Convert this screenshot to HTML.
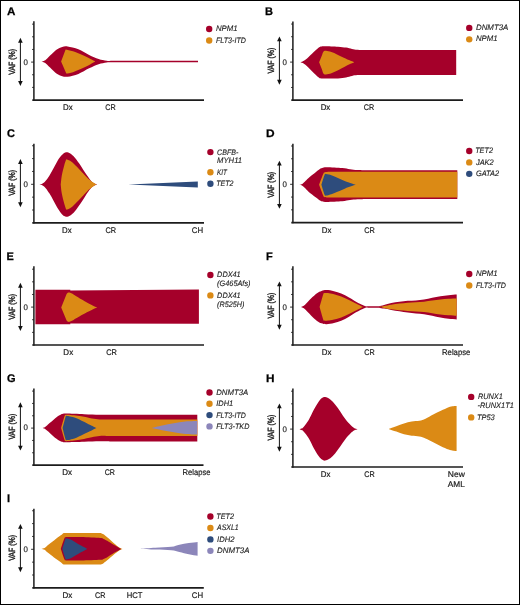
<!DOCTYPE html>
<html><head><meta charset="utf-8"><title>Fish plots</title>
<style>html,body{margin:0;padding:0;background:#fff;}svg{display:block;will-change:transform;}</style>
</head><body>
<svg width="520" height="605" viewBox="0 0 520 605" style="font-family:&quot;Liberation Sans&quot;, sans-serif;text-rendering:geometricPrecision">
<rect x="0" y="0" width="520" height="605" fill="#fff"/>
<text x="6.90" y="14.80" font-size="11" font-weight="bold" fill="#000" stroke="#000" stroke-width="0.25" textLength="8.4" lengthAdjust="spacingAndGlyphs">A</text>
<line x1="33.9" y1="21.2" x2="33.9" y2="100.8" stroke="#1c1c1c" stroke-width="1.5"/>
<line x1="32.3" y1="100.05" x2="204" y2="100.05" stroke="#1c1c1c" stroke-width="1.7"/>
<line x1="32.1" y1="24.15" x2="33.9" y2="24.15" stroke="#1c1c1c" stroke-width="0.9"/>
<line x1="32.1" y1="36.80" x2="33.9" y2="36.80" stroke="#1c1c1c" stroke-width="0.9"/>
<line x1="32.1" y1="49.45" x2="33.9" y2="49.45" stroke="#1c1c1c" stroke-width="0.9"/>
<line x1="31.099999999999998" y1="62.10" x2="33.9" y2="62.10" stroke="#1c1c1c" stroke-width="0.9"/>
<line x1="32.1" y1="74.75" x2="33.9" y2="74.75" stroke="#1c1c1c" stroke-width="0.9"/>
<line x1="32.1" y1="87.40" x2="33.9" y2="87.40" stroke="#1c1c1c" stroke-width="0.9"/>
<text x="27.80" y="64.52" font-size="8.0" text-anchor="end" fill="#222" textLength="4.4" lengthAdjust="spacingAndGlyphs" stroke="#222" stroke-width="0.15">0</text>
<line x1="20.4" y1="40.75" x2="20.4" y2="82.95" stroke="#111" stroke-width="1"/>
<path d="M20.4 37.75 L18.099999999999998 42.65 L22.7 42.65 Z" fill="#111"/>
<path d="M20.4 85.95 L18.099999999999998 81.05 L22.7 81.05 Z" fill="#111"/>
<text x="0" y="0" font-size="9" text-anchor="middle" fill="#222" stroke="#222" stroke-width="0.4" textLength="25.9" lengthAdjust="spacingAndGlyphs" transform="translate(15.00 61.80) rotate(-90)">VAF (%)</text>
<text x="67.90" y="110.35" font-size="8.2" text-anchor="middle" fill="#222" textLength="9.6" lengthAdjust="spacingAndGlyphs" stroke="#222" stroke-width="0.2">Dx</text>
<text x="110.40" y="110.35" font-size="8.2" text-anchor="middle" fill="#222" textLength="10.4" lengthAdjust="spacingAndGlyphs" stroke="#222" stroke-width="0.2">CR</text>
<path d="M41.00 61.60 C41.43 61.48 42.75 61.27 43.60 60.90 C44.45 60.53 44.78 60.52 46.10 59.40 C47.42 58.28 49.72 55.85 51.50 54.20 C53.28 52.55 55.02 50.70 56.80 49.50 C58.58 48.30 60.40 47.50 62.20 47.00 C64.00 46.50 64.90 46.12 67.60 46.50 C70.30 46.88 74.82 47.90 78.40 49.30 C81.98 50.70 85.73 53.28 89.10 54.90 C92.47 56.52 95.68 58.02 98.60 59.00 C101.52 59.98 104.37 60.44 106.60 60.75 C108.83 61.06 111.10 60.83 112.00 60.85 L198.00 60.85 L198.00 62.35 L112.00 62.35 C111.10 62.37 108.83 62.14 106.60 62.45 C104.37 62.76 101.52 63.23 98.60 64.20 C95.68 65.17 92.47 66.68 89.10 68.30 C85.73 69.92 81.98 72.50 78.40 73.90 C74.82 75.30 70.30 76.32 67.60 76.70 C64.90 77.08 64.00 76.70 62.20 76.20 C60.40 75.70 58.58 74.90 56.80 73.70 C55.02 72.50 53.28 70.65 51.50 69.00 C49.72 67.35 47.42 64.92 46.10 63.80 C44.78 62.68 44.45 62.67 43.60 62.30 C42.75 61.93 41.43 61.72 41.00 61.60 Z" fill="#A5002A"/>
<path d="M61.10 61.60 L65.60 49.50 C66.83 49.80 70.20 50.37 73.00 51.30 C75.80 52.23 79.48 53.80 82.40 55.10 C85.32 56.40 88.37 58.02 90.50 59.10 C92.63 60.18 94.42 61.18 95.20 61.60 C94.42 62.03 92.63 63.08 90.50 64.20 C88.37 65.32 85.32 66.97 82.40 68.30 C79.48 69.63 75.68 71.32 73.00 72.20 C70.32 73.08 67.42 73.37 66.30 73.60 L61.10 61.60 Z" fill="#DB8A15"/>
<circle cx="209.2" cy="29.00" r="3.2" fill="#A5002A"/>
<text x="215.90" y="31.30" font-size="7.9" text-anchor="start" fill="#222" font-style="italic" textLength="21.6" lengthAdjust="spacingAndGlyphs" stroke="#222" stroke-width="0.12">NPM1</text>
<circle cx="209.2" cy="40.50" r="3.2" fill="#DB8A15"/>
<text x="215.90" y="42.80" font-size="7.9" text-anchor="start" fill="#222" font-style="italic" textLength="30.0" lengthAdjust="spacingAndGlyphs" stroke="#222" stroke-width="0.12">FLT3-ITD</text>
<text x="265.10" y="14.80" font-size="11" font-weight="bold" fill="#000" stroke="#000" stroke-width="0.25">B</text>
<line x1="292.9" y1="21.4" x2="292.9" y2="100.9" stroke="#1c1c1c" stroke-width="1.5"/>
<line x1="291.29999999999995" y1="100.15" x2="463.0" y2="100.15" stroke="#1c1c1c" stroke-width="1.7"/>
<line x1="291.09999999999997" y1="24.05" x2="292.9" y2="24.05" stroke="#1c1c1c" stroke-width="0.9"/>
<line x1="291.09999999999997" y1="36.73" x2="292.9" y2="36.73" stroke="#1c1c1c" stroke-width="0.9"/>
<line x1="291.09999999999997" y1="49.42" x2="292.9" y2="49.42" stroke="#1c1c1c" stroke-width="0.9"/>
<line x1="290.09999999999997" y1="62.10" x2="292.9" y2="62.10" stroke="#1c1c1c" stroke-width="0.9"/>
<line x1="291.09999999999997" y1="74.78" x2="292.9" y2="74.78" stroke="#1c1c1c" stroke-width="0.9"/>
<line x1="291.09999999999997" y1="87.47" x2="292.9" y2="87.47" stroke="#1c1c1c" stroke-width="0.9"/>
<text x="286.80" y="64.52" font-size="8.0" text-anchor="end" fill="#222" textLength="4.4" lengthAdjust="spacingAndGlyphs" stroke="#222" stroke-width="0.15">0</text>
<line x1="279.4" y1="39.45" x2="279.4" y2="81.65" stroke="#111" stroke-width="1"/>
<path d="M279.4 36.45 L277.09999999999997 41.35 L281.7 41.35 Z" fill="#111"/>
<path d="M279.4 84.65 L277.09999999999997 79.75 L281.7 79.75 Z" fill="#111"/>
<text x="0" y="0" font-size="9" text-anchor="middle" fill="#222" stroke="#222" stroke-width="0.4" textLength="25.9" lengthAdjust="spacingAndGlyphs" transform="translate(274.00 60.65) rotate(-90)">VAF (%)</text>
<text x="325.45" y="110.45" font-size="8.2" text-anchor="middle" fill="#222" textLength="9.6" lengthAdjust="spacingAndGlyphs" stroke="#222" stroke-width="0.2">Dx</text>
<text x="369.00" y="110.45" font-size="8.2" text-anchor="middle" fill="#222" textLength="10.4" lengthAdjust="spacingAndGlyphs" stroke="#222" stroke-width="0.2">CR</text>
<path d="M300.00 62.20 C300.43 62.07 301.65 61.85 302.60 61.40 C303.55 60.95 304.13 60.78 305.70 59.50 C307.27 58.22 309.82 55.68 312.00 53.70 C314.18 51.72 317.27 48.80 318.80 47.60 C320.33 46.40 320.18 46.73 321.20 46.50 C322.22 46.27 322.10 46.17 324.90 46.20 C327.70 46.23 334.48 46.47 338.00 46.70 C341.52 46.93 343.67 47.23 346.00 47.60 C348.33 47.97 350.08 48.53 352.00 48.90 C353.92 49.27 355.00 49.60 357.50 49.80 C360.00 50.00 363.92 50.05 367.00 50.10 C370.08 50.15 374.50 50.10 376.00 50.10 L456.20 50.10 L456.20 75.00 L376.00 75.00 C374.50 75.00 370.08 74.98 367.00 75.00 C363.92 75.02 360.00 74.93 357.50 75.10 C355.00 75.27 353.92 75.62 352.00 76.00 C350.08 76.38 348.33 77.00 346.00 77.40 C343.67 77.80 341.52 78.20 338.00 78.40 C334.48 78.60 327.70 78.60 324.90 78.60 C322.10 78.60 322.22 78.57 321.20 78.40 C320.18 78.23 320.33 78.80 318.80 77.60 C317.27 76.40 314.18 73.30 312.00 71.20 C309.82 69.10 307.27 66.37 305.70 65.00 C304.13 63.63 303.55 63.47 302.60 63.00 C301.65 62.53 300.43 62.33 300.00 62.20 Z" fill="#A5002A"/>
<path d="M319.10 62.20 C319.55 61.12 321.15 57.33 321.80 55.70 C322.45 54.07 322.60 53.18 323.00 52.40 C323.40 51.62 323.70 51.28 324.20 51.00 C324.70 50.72 324.80 50.53 326.00 50.70 C327.20 50.87 329.57 51.38 331.40 52.00 C333.23 52.62 335.20 53.57 337.00 54.40 C338.80 55.23 340.20 56.05 342.20 57.00 C344.20 57.95 347.00 59.23 349.00 60.10 C351.00 60.97 353.33 61.85 354.20 62.20 C353.33 62.58 351.00 63.53 349.00 64.50 C347.00 65.47 344.20 66.95 342.20 68.00 C340.20 69.05 338.80 69.93 337.00 70.80 C335.20 71.67 333.23 72.58 331.40 73.20 C329.57 73.82 327.20 74.33 326.00 74.50 C324.80 74.67 324.70 74.48 324.20 74.20 C323.70 73.92 323.40 73.67 323.00 72.80 C322.60 71.93 322.45 70.77 321.80 69.00 C321.15 67.23 319.55 63.33 319.10 62.20 Z" fill="#DB8A15"/>
<circle cx="469.25" cy="27.90" r="3.2" fill="#A5002A"/>
<text x="475.95" y="29.90" font-size="7.9" text-anchor="start" fill="#222" font-style="italic" textLength="32.4" lengthAdjust="spacingAndGlyphs" stroke="#222" stroke-width="0.12">DNMT3A</text>
<circle cx="469.25" cy="39.35" r="3.2" fill="#DB8A15"/>
<text x="475.95" y="41.35" font-size="7.9" text-anchor="start" fill="#222" font-style="italic" textLength="21.6" lengthAdjust="spacingAndGlyphs" stroke="#222" stroke-width="0.12">NPM1</text>
<text x="6.90" y="137.00" font-size="11" font-weight="bold" fill="#000" stroke="#000" stroke-width="0.25">C</text>
<line x1="33.9" y1="143.75" x2="33.9" y2="223.6" stroke="#1c1c1c" stroke-width="1.5"/>
<line x1="32.3" y1="222.85" x2="204" y2="222.85" stroke="#1c1c1c" stroke-width="1.7"/>
<line x1="32.1" y1="145.75" x2="33.9" y2="145.75" stroke="#1c1c1c" stroke-width="0.9"/>
<line x1="32.1" y1="158.60" x2="33.9" y2="158.60" stroke="#1c1c1c" stroke-width="0.9"/>
<line x1="32.1" y1="171.45" x2="33.9" y2="171.45" stroke="#1c1c1c" stroke-width="0.9"/>
<line x1="31.099999999999998" y1="184.30" x2="33.9" y2="184.30" stroke="#1c1c1c" stroke-width="0.9"/>
<line x1="32.1" y1="197.15" x2="33.9" y2="197.15" stroke="#1c1c1c" stroke-width="0.9"/>
<line x1="32.1" y1="210.00" x2="33.9" y2="210.00" stroke="#1c1c1c" stroke-width="0.9"/>
<text x="27.80" y="186.92" font-size="8.0" text-anchor="end" fill="#222" textLength="4.4" lengthAdjust="spacingAndGlyphs" stroke="#222" stroke-width="0.15">0</text>
<line x1="20.4" y1="162.05" x2="20.4" y2="204.25" stroke="#111" stroke-width="1"/>
<path d="M20.4 159.05 L18.099999999999998 163.95 L22.7 163.95 Z" fill="#111"/>
<path d="M20.4 207.25 L18.099999999999998 202.35 L22.7 202.35 Z" fill="#111"/>
<text x="0" y="0" font-size="9" text-anchor="middle" fill="#222" stroke="#222" stroke-width="0.4" textLength="25.9" lengthAdjust="spacingAndGlyphs" transform="translate(15.00 182.90) rotate(-90)">VAF (%)</text>
<text x="66.90" y="233.15" font-size="8.2" text-anchor="middle" fill="#222" textLength="9.6" lengthAdjust="spacingAndGlyphs" stroke="#222" stroke-width="0.2">Dx</text>
<text x="110.85" y="233.15" font-size="8.2" text-anchor="middle" fill="#222" textLength="10.6" lengthAdjust="spacingAndGlyphs" stroke="#222" stroke-width="0.2">CR</text>
<text x="197.50" y="233.15" font-size="8.2" text-anchor="middle" fill="#222" textLength="11.3" lengthAdjust="spacingAndGlyphs" stroke="#222" stroke-width="0.2">CH</text>
<path d="M39.60 184.50 C40.10 184.33 41.58 184.12 42.60 183.50 C43.62 182.88 44.55 182.15 45.70 180.80 C46.85 179.45 48.22 177.45 49.50 175.40 C50.78 173.35 52.12 170.82 53.40 168.50 C54.68 166.18 55.92 163.62 57.20 161.50 C58.48 159.38 59.93 157.23 61.10 155.80 C62.27 154.37 63.28 153.50 64.20 152.90 C65.12 152.30 65.58 152.10 66.60 152.20 C67.62 152.30 68.92 152.58 70.30 153.50 C71.68 154.42 73.13 155.63 74.90 157.70 C76.67 159.77 79.10 163.25 80.90 165.90 C82.70 168.55 84.10 171.22 85.70 173.60 C87.30 175.98 89.20 178.63 90.50 180.20 C91.80 181.77 92.38 182.28 93.50 183.00 C94.62 183.72 96.58 184.25 97.20 184.50 C96.58 184.75 94.62 185.28 93.50 186.00 C92.38 186.72 91.80 187.23 90.50 188.80 C89.20 190.37 87.30 193.02 85.70 195.40 C84.10 197.78 82.70 200.45 80.90 203.10 C79.10 205.75 76.67 209.23 74.90 211.30 C73.13 213.37 71.68 214.58 70.30 215.50 C68.92 216.42 67.62 216.70 66.60 216.80 C65.58 216.90 65.12 216.70 64.20 216.10 C63.28 215.50 62.27 214.63 61.10 213.20 C59.93 211.77 58.48 209.62 57.20 207.50 C55.92 205.38 54.68 202.82 53.40 200.50 C52.12 198.18 50.78 195.65 49.50 193.60 C48.22 191.55 46.85 189.55 45.70 188.20 C44.55 186.85 43.62 186.12 42.60 185.50 C41.58 184.88 40.10 184.67 39.60 184.50 Z" fill="#A5002A"/>
<path d="M60.70 184.50 C60.88 182.98 61.22 178.58 61.80 175.40 C62.38 172.22 63.50 168.02 64.20 165.40 C64.90 162.78 65.70 160.65 66.00 159.70 C66.17 159.65 66.42 159.25 67.00 159.40 C67.58 159.55 68.58 160.07 69.50 160.60 C70.42 161.13 70.96 161.23 72.50 162.60 C74.04 163.97 76.25 166.22 78.75 168.80 C81.25 171.38 85.29 175.93 87.50 178.10 C89.71 180.27 90.52 180.73 92.00 181.80 C93.48 182.87 95.67 184.05 96.40 184.50 C95.67 184.95 93.48 186.13 92.00 187.20 C90.52 188.27 89.71 188.73 87.50 190.90 C85.29 193.07 81.25 197.62 78.75 200.20 C76.25 202.78 74.04 205.03 72.50 206.40 C70.96 207.77 70.42 207.87 69.50 208.40 C68.58 208.93 67.58 209.45 67.00 209.60 C66.42 209.75 66.17 209.35 66.00 209.30 C65.70 208.35 64.90 206.22 64.20 203.60 C63.50 200.98 62.38 196.78 61.80 193.60 C61.22 190.42 60.88 186.02 60.70 184.50 Z" fill="#DB8A15"/>
<path d="M128.30 184.50 L197.80 181.40 L197.80 187.50 Z" fill="#2E4C7C"/>
<circle cx="210.4" cy="152.10" r="3.2" fill="#A5002A"/>
<text x="217.10" y="154.60" font-size="7.9" text-anchor="start" fill="#222" font-style="italic" textLength="21.2" lengthAdjust="spacingAndGlyphs" stroke="#222" stroke-width="0.12">CBFB-</text>
<text x="217.10" y="163.00" font-size="7.9" text-anchor="start" fill="#222" font-style="italic" textLength="25.0" lengthAdjust="spacingAndGlyphs" stroke="#222" stroke-width="0.12">MYH11</text>
<circle cx="210.4" cy="172.30" r="3.2" fill="#DB8A15"/>
<text x="217.10" y="174.80" font-size="7.9" text-anchor="start" fill="#222" font-style="italic" textLength="9.9" lengthAdjust="spacingAndGlyphs" stroke="#222" stroke-width="0.12">KIT</text>
<circle cx="210.4" cy="183.80" r="3.2" fill="#2E4C7C"/>
<text x="216.30" y="186.30" font-size="7.9" text-anchor="start" fill="#222" font-style="italic" textLength="17.2" lengthAdjust="spacingAndGlyphs" stroke="#222" stroke-width="0.12">TET2</text>
<text x="265.90" y="137.00" font-size="11" font-weight="bold" fill="#000" stroke="#000" stroke-width="0.25" textLength="8.6" lengthAdjust="spacingAndGlyphs">D</text>
<line x1="292.9" y1="143.75" x2="292.9" y2="223.35" stroke="#1c1c1c" stroke-width="1.5"/>
<line x1="291.29999999999995" y1="222.6" x2="463.0" y2="222.6" stroke="#1c1c1c" stroke-width="1.7"/>
<line x1="291.09999999999997" y1="146.00" x2="292.9" y2="146.00" stroke="#1c1c1c" stroke-width="0.9"/>
<line x1="291.09999999999997" y1="158.77" x2="292.9" y2="158.77" stroke="#1c1c1c" stroke-width="0.9"/>
<line x1="291.09999999999997" y1="171.53" x2="292.9" y2="171.53" stroke="#1c1c1c" stroke-width="0.9"/>
<line x1="290.09999999999997" y1="184.30" x2="292.9" y2="184.30" stroke="#1c1c1c" stroke-width="0.9"/>
<line x1="291.09999999999997" y1="197.07" x2="292.9" y2="197.07" stroke="#1c1c1c" stroke-width="0.9"/>
<line x1="291.09999999999997" y1="209.83" x2="292.9" y2="209.83" stroke="#1c1c1c" stroke-width="0.9"/>
<text x="286.80" y="187.02" font-size="8.0" text-anchor="end" fill="#222" textLength="4.4" lengthAdjust="spacingAndGlyphs" stroke="#222" stroke-width="0.15">0</text>
<line x1="279.4" y1="163.65" x2="279.4" y2="205.85" stroke="#111" stroke-width="1"/>
<path d="M279.4 160.65 L277.09999999999997 165.55 L281.7 165.55 Z" fill="#111"/>
<path d="M279.4 208.85 L277.09999999999997 203.95 L281.7 203.95 Z" fill="#111"/>
<text x="0" y="0" font-size="9" text-anchor="middle" fill="#222" stroke="#222" stroke-width="0.4" textLength="25.9" lengthAdjust="spacingAndGlyphs" transform="translate(274.00 184.75) rotate(-90)">VAF (%)</text>
<text x="326.60" y="232.90" font-size="8.2" text-anchor="middle" fill="#222" textLength="9.6" lengthAdjust="spacingAndGlyphs" stroke="#222" stroke-width="0.2">Dx</text>
<text x="369.60" y="232.90" font-size="8.2" text-anchor="middle" fill="#222" textLength="10.6" lengthAdjust="spacingAndGlyphs" stroke="#222" stroke-width="0.2">CR</text>
<path d="M299.50 184.80 C299.97 184.65 301.38 184.45 302.30 183.90 C303.22 183.35 304.00 182.45 305.00 181.50 C306.00 180.55 306.47 179.78 308.30 178.20 C310.13 176.62 313.97 173.60 316.00 172.00 C318.03 170.40 319.22 169.37 320.50 168.60 C321.78 167.83 322.62 167.63 323.70 167.40 C324.78 167.17 323.92 167.10 327.00 167.20 C330.08 167.30 338.37 167.67 342.20 168.00 C346.03 168.33 347.45 168.87 350.00 169.20 C352.55 169.53 354.33 169.83 357.50 170.00 C360.67 170.17 367.08 170.17 369.00 170.20 L457.30 170.20 L457.30 198.90 L369.00 198.90 C367.08 198.95 360.67 199.02 357.50 199.20 C354.33 199.38 352.55 199.67 350.00 200.00 C347.45 200.33 346.03 200.88 342.20 201.20 C338.37 201.52 330.08 201.80 327.00 201.90 C323.92 202.00 324.78 201.98 323.70 201.80 C322.62 201.62 321.78 201.50 320.50 200.80 C319.22 200.10 318.03 199.17 316.00 197.60 C313.97 196.03 310.13 192.98 308.30 191.40 C306.47 189.82 306.00 189.05 305.00 188.10 C304.00 187.15 303.22 186.25 302.30 185.70 C301.38 185.15 299.97 184.95 299.50 184.80 Z" fill="#A5002A"/>
<path d="M319.10 184.80 C319.80 182.97 322.40 175.87 323.30 173.80 C324.20 171.73 323.88 172.72 324.50 172.40 C325.12 172.08 324.58 172.00 327.00 171.90 C329.42 171.80 337.00 171.82 339.00 171.80 L457.30 171.80 L457.30 197.40 L339.00 197.40 C337.00 197.40 329.42 197.45 327.00 197.40 C324.58 197.35 325.12 197.37 324.50 197.10 C323.88 196.83 324.20 197.85 323.30 195.80 C322.40 193.75 319.80 186.63 319.10 184.80 Z" fill="#DB8A15"/>
<path d="M321.40 184.80 C321.93 183.13 323.87 176.60 324.60 174.80 C325.33 173.00 325.07 174.03 325.80 174.00 C326.53 173.97 327.55 174.18 329.00 174.60 C330.45 175.02 331.80 175.40 334.50 176.50 C337.20 177.60 341.67 179.82 345.20 181.20 C348.73 182.58 353.95 184.20 355.70 184.80 C353.95 185.40 348.73 187.03 345.20 188.40 C341.67 189.77 337.20 191.92 334.50 193.00 C331.80 194.08 330.45 194.48 329.00 194.90 C327.55 195.32 326.53 195.52 325.80 195.50 C325.07 195.48 325.33 196.58 324.60 194.80 C323.87 193.02 321.93 186.47 321.40 184.80 Z" fill="#2E4C7C"/>
<circle cx="469.25" cy="150.95" r="3.2" fill="#A5002A"/>
<text x="475.15" y="153.25" font-size="7.9" text-anchor="start" fill="#222" font-style="italic" textLength="17.8" lengthAdjust="spacingAndGlyphs" stroke="#222" stroke-width="0.12">TET2</text>
<circle cx="469.25" cy="162.40" r="3.2" fill="#DB8A15"/>
<text x="475.95" y="164.70" font-size="7.9" text-anchor="start" fill="#222" font-style="italic" textLength="17.8" lengthAdjust="spacingAndGlyphs" stroke="#222" stroke-width="0.12">JAK2</text>
<circle cx="469.25" cy="173.85" r="3.2" fill="#2E4C7C"/>
<text x="475.95" y="176.15" font-size="7.9" text-anchor="start" fill="#222" font-style="italic" textLength="23.2" lengthAdjust="spacingAndGlyphs" stroke="#222" stroke-width="0.12">GATA2</text>
<text x="6.40" y="259.80" font-size="11" font-weight="bold" fill="#000" stroke="#000" stroke-width="0.25">E</text>
<line x1="33.9" y1="266.3" x2="33.9" y2="345.75" stroke="#1c1c1c" stroke-width="1.5"/>
<line x1="32.3" y1="345.0" x2="204" y2="345.0" stroke="#1c1c1c" stroke-width="1.7"/>
<line x1="32.1" y1="269.20" x2="33.9" y2="269.20" stroke="#1c1c1c" stroke-width="0.9"/>
<line x1="32.1" y1="281.83" x2="33.9" y2="281.83" stroke="#1c1c1c" stroke-width="0.9"/>
<line x1="32.1" y1="294.47" x2="33.9" y2="294.47" stroke="#1c1c1c" stroke-width="0.9"/>
<line x1="31.099999999999998" y1="307.10" x2="33.9" y2="307.10" stroke="#1c1c1c" stroke-width="0.9"/>
<line x1="32.1" y1="319.73" x2="33.9" y2="319.73" stroke="#1c1c1c" stroke-width="0.9"/>
<line x1="32.1" y1="332.37" x2="33.9" y2="332.37" stroke="#1c1c1c" stroke-width="0.9"/>
<text x="27.80" y="309.52" font-size="8.0" text-anchor="end" fill="#222" textLength="4.4" lengthAdjust="spacingAndGlyphs" stroke="#222" stroke-width="0.15">0</text>
<line x1="20.4" y1="285.75" x2="20.4" y2="327.95000000000005" stroke="#111" stroke-width="1"/>
<path d="M20.4 282.75 L18.099999999999998 287.65 L22.7 287.65 Z" fill="#111"/>
<path d="M20.4 330.95 L18.099999999999998 326.05 L22.7 326.05 Z" fill="#111"/>
<text x="0" y="0" font-size="9" text-anchor="middle" fill="#222" stroke="#222" stroke-width="0.4" textLength="25.9" lengthAdjust="spacingAndGlyphs" transform="translate(15.00 306.80) rotate(-90)">VAF (%)</text>
<text x="68.25" y="355.30" font-size="8.2" text-anchor="middle" fill="#222" textLength="9.8" lengthAdjust="spacingAndGlyphs" stroke="#222" stroke-width="0.2">Dx</text>
<text x="111.50" y="355.30" font-size="8.2" text-anchor="middle" fill="#222" textLength="10.7" lengthAdjust="spacingAndGlyphs" stroke="#222" stroke-width="0.2">CR</text>
<path d="M35.40 289.70 L70.30 289.70 L70.30 290.50 L198.90 289.50 L198.90 323.70 L70.30 323.50 L70.30 324.30 L35.40 324.30 Z" fill="#A5002A"/>
<path d="M61.20 307.40 L66.60 294.10 C66.80 293.88 67.32 293.05 67.80 292.80 C68.28 292.55 68.72 292.43 69.50 292.60 C70.28 292.77 71.38 293.20 72.50 293.80 C73.62 294.40 73.80 294.77 76.20 296.20 C78.60 297.63 83.83 300.70 86.90 302.40 C89.97 304.10 92.80 305.57 94.60 306.40 C96.40 307.23 97.18 307.23 97.70 307.40 C97.18 307.57 96.40 307.58 94.60 308.40 C92.80 309.22 89.97 310.65 86.90 312.30 C83.83 313.95 78.60 316.92 76.20 318.30 C73.80 319.68 73.62 320.02 72.50 320.60 C71.38 321.18 70.28 321.63 69.50 321.80 C68.72 321.97 68.28 321.83 67.80 321.60 C67.32 321.37 66.80 320.60 66.60 320.40 L61.20 307.40 Z" fill="#DB8A15"/>
<circle cx="210.4" cy="275.00" r="3.2" fill="#A5002A"/>
<text x="217.10" y="277.20" font-size="7.9" text-anchor="start" fill="#222" font-style="italic" textLength="23.6" lengthAdjust="spacingAndGlyphs" stroke="#222" stroke-width="0.12">DDX41</text>
<text x="217.10" y="286.30" font-size="7.9" text-anchor="start" fill="#222" font-style="italic" textLength="33.4" lengthAdjust="spacingAndGlyphs" stroke="#222" stroke-width="0.12">(G465Afs)</text>
<circle cx="210.4" cy="295.40" r="3.2" fill="#DB8A15"/>
<text x="217.10" y="297.60" font-size="7.9" text-anchor="start" fill="#222" font-style="italic" textLength="23.6" lengthAdjust="spacingAndGlyphs" stroke="#222" stroke-width="0.12">DDX41</text>
<text x="217.10" y="306.70" font-size="7.9" text-anchor="start" fill="#222" font-style="italic" textLength="27.2" lengthAdjust="spacingAndGlyphs" stroke="#222" stroke-width="0.12">(R525H)</text>
<text x="265.90" y="259.80" font-size="11" font-weight="bold" fill="#000" stroke="#000" stroke-width="0.25">F</text>
<line x1="292.9" y1="266.3" x2="292.9" y2="345.75" stroke="#1c1c1c" stroke-width="1.5"/>
<line x1="291.29999999999995" y1="345.0" x2="463.0" y2="345.0" stroke="#1c1c1c" stroke-width="1.7"/>
<line x1="291.09999999999997" y1="269.20" x2="292.9" y2="269.20" stroke="#1c1c1c" stroke-width="0.9"/>
<line x1="291.09999999999997" y1="281.83" x2="292.9" y2="281.83" stroke="#1c1c1c" stroke-width="0.9"/>
<line x1="291.09999999999997" y1="294.47" x2="292.9" y2="294.47" stroke="#1c1c1c" stroke-width="0.9"/>
<line x1="290.09999999999997" y1="307.10" x2="292.9" y2="307.10" stroke="#1c1c1c" stroke-width="0.9"/>
<line x1="291.09999999999997" y1="319.73" x2="292.9" y2="319.73" stroke="#1c1c1c" stroke-width="0.9"/>
<line x1="291.09999999999997" y1="332.37" x2="292.9" y2="332.37" stroke="#1c1c1c" stroke-width="0.9"/>
<text x="286.80" y="309.52" font-size="8.0" text-anchor="end" fill="#222" textLength="4.4" lengthAdjust="spacingAndGlyphs" stroke="#222" stroke-width="0.15">0</text>
<line x1="279.4" y1="284.45" x2="279.4" y2="326.65000000000003" stroke="#111" stroke-width="1"/>
<path d="M279.4 281.45 L277.09999999999997 286.35 L281.7 286.35 Z" fill="#111"/>
<path d="M279.4 329.65 L277.09999999999997 324.75 L281.7 324.75 Z" fill="#111"/>
<text x="0" y="0" font-size="9" text-anchor="middle" fill="#222" stroke="#222" stroke-width="0.4" textLength="25.9" lengthAdjust="spacingAndGlyphs" transform="translate(274.00 305.65) rotate(-90)">VAF (%)</text>
<text x="326.60" y="355.30" font-size="8.2" text-anchor="middle" fill="#222" textLength="9.6" lengthAdjust="spacingAndGlyphs" stroke="#222" stroke-width="0.2">Dx</text>
<text x="369.40" y="355.30" font-size="8.2" text-anchor="middle" fill="#222" textLength="10.4" lengthAdjust="spacingAndGlyphs" stroke="#222" stroke-width="0.2">CR</text>
<text x="456.20" y="355.30" font-size="8.2" text-anchor="middle" fill="#222" textLength="28.4" lengthAdjust="spacingAndGlyphs" stroke="#222" stroke-width="0.2">Relapse</text>
<path d="M300.70 307.00 C301.05 306.87 302.03 306.63 302.80 306.20 C303.57 305.77 303.93 305.68 305.30 304.40 C306.67 303.12 309.05 300.37 311.00 298.50 C312.95 296.63 315.25 294.45 317.00 293.20 C318.75 291.95 319.92 291.52 321.50 291.00 C323.08 290.48 324.42 290.07 326.50 290.10 C328.58 290.13 331.55 290.63 334.00 291.20 C336.45 291.77 338.70 292.47 341.20 293.50 C343.70 294.53 346.45 296.00 349.00 297.40 C351.55 298.80 354.22 300.63 356.50 301.90 C358.78 303.17 361.20 304.27 362.70 305.00 C364.20 305.73 364.62 306.02 365.50 306.25 C366.38 306.48 367.58 306.33 368.00 306.35 L379.20 306.35 C380.00 306.12 381.98 305.54 384.00 305.00 C386.02 304.46 388.72 303.63 391.30 303.10 C393.88 302.57 396.77 302.18 399.50 301.80 C402.23 301.42 404.97 301.03 407.70 300.80 C410.43 300.57 413.18 300.62 415.90 300.40 C418.62 300.18 421.28 299.95 424.00 299.50 C426.72 299.05 429.47 298.25 432.20 297.70 C434.93 297.15 437.67 296.62 440.40 296.20 C443.13 295.78 445.88 295.47 448.60 295.20 C451.32 294.93 455.35 294.70 456.70 294.60 L456.70 319.40 C455.35 319.28 451.32 319.02 448.60 318.70 C445.88 318.38 443.13 317.98 440.40 317.50 C437.67 317.02 434.93 316.35 432.20 315.80 C429.47 315.25 426.72 314.60 424.00 314.20 C421.28 313.80 418.62 313.67 415.90 313.40 C413.18 313.13 410.43 312.95 407.70 312.60 C404.97 312.25 402.23 311.75 399.50 311.30 C396.77 310.85 393.88 310.35 391.30 309.90 C388.72 309.45 386.02 308.98 384.00 308.60 C381.98 308.23 380.00 307.81 379.20 307.65 L368.00 307.65 C367.58 307.67 366.38 307.52 365.50 307.75 C364.62 307.98 364.20 308.27 362.70 309.00 C361.20 309.73 358.78 310.82 356.50 312.10 C354.22 313.38 351.55 315.27 349.00 316.70 C346.45 318.13 343.70 319.65 341.20 320.70 C338.70 321.75 336.45 322.42 334.00 323.00 C331.55 323.58 328.58 324.15 326.50 324.20 C324.42 324.25 323.08 323.83 321.50 323.30 C319.92 322.77 318.75 322.30 317.00 321.00 C315.25 319.70 312.95 317.40 311.00 315.50 C309.05 313.60 306.67 310.88 305.30 309.60 C303.93 308.32 303.57 308.23 302.80 307.80 C302.03 307.37 301.05 307.13 300.70 307.00 Z" fill="#A5002A"/>
<path d="M319.60 307.00 C320.20 304.90 322.38 296.72 323.20 294.40 C324.02 292.08 323.87 293.33 324.50 293.10 C325.13 292.87 325.75 292.88 327.00 293.00 C328.25 293.12 329.63 293.22 332.00 293.80 C334.37 294.38 338.37 295.47 341.20 296.50 C344.03 297.53 346.45 298.78 349.00 300.00 C351.55 301.22 354.50 302.82 356.50 303.80 C358.50 304.78 359.72 305.38 361.00 305.90 C362.28 306.42 361.17 306.73 364.20 306.90 C367.23 307.07 375.90 307.05 379.20 306.90 C382.50 306.75 381.98 306.37 384.00 306.00 C386.02 305.63 388.72 305.10 391.30 304.70 C393.88 304.30 396.77 303.93 399.50 303.60 C402.23 303.27 404.97 302.93 407.70 302.70 C410.43 302.47 413.18 302.37 415.90 302.20 C418.62 302.03 421.28 301.97 424.00 301.70 C426.72 301.43 429.47 300.97 432.20 300.60 C434.93 300.23 437.67 299.80 440.40 299.50 C443.13 299.20 445.88 298.97 448.60 298.80 C451.32 298.63 455.35 298.55 456.70 298.50 L456.70 315.80 C455.35 315.72 451.32 315.52 448.60 315.30 C445.88 315.08 443.13 314.83 440.40 314.50 C437.67 314.17 434.93 313.70 432.20 313.30 C429.47 312.90 426.72 312.40 424.00 312.10 C421.28 311.80 418.62 311.70 415.90 311.50 C413.18 311.30 410.43 311.12 407.70 310.90 C404.97 310.68 402.23 310.47 399.50 310.20 C396.77 309.93 393.88 309.67 391.30 309.30 C388.72 308.93 386.02 308.37 384.00 308.00 C381.98 307.63 382.50 307.25 379.20 307.10 C375.90 306.95 367.23 306.93 364.20 307.10 C361.17 307.27 362.28 307.58 361.00 308.10 C359.72 308.62 358.50 309.22 356.50 310.20 C354.50 311.18 351.55 312.80 349.00 314.00 C346.45 315.20 344.03 316.40 341.20 317.40 C338.37 318.40 334.37 319.45 332.00 320.00 C329.63 320.55 328.25 320.60 327.00 320.70 C325.75 320.80 325.13 320.82 324.50 320.60 C323.87 320.38 324.02 321.67 323.20 319.40 C322.38 317.13 320.20 309.07 319.60 307.00 Z" fill="#DB8A15"/>
<circle cx="469.25" cy="274.00" r="3.2" fill="#A5002A"/>
<text x="475.95" y="276.20" font-size="7.9" text-anchor="start" fill="#222" font-style="italic" textLength="21.6" lengthAdjust="spacingAndGlyphs" stroke="#222" stroke-width="0.12">NPM1</text>
<circle cx="469.25" cy="285.50" r="3.2" fill="#DB8A15"/>
<text x="475.95" y="287.70" font-size="7.9" text-anchor="start" fill="#222" font-style="italic" textLength="30.0" lengthAdjust="spacingAndGlyphs" stroke="#222" stroke-width="0.12">FLT3-ITD</text>
<text x="6.90" y="381.60" font-size="11" font-weight="bold" fill="#000" stroke="#000" stroke-width="0.25">G</text>
<line x1="33.9" y1="388.6" x2="33.9" y2="465.85" stroke="#1c1c1c" stroke-width="1.5"/>
<line x1="32.3" y1="465.1" x2="203.5" y2="465.1" stroke="#1c1c1c" stroke-width="1.7"/>
<line x1="32.1" y1="391.10" x2="33.9" y2="391.10" stroke="#1c1c1c" stroke-width="0.9"/>
<line x1="32.1" y1="403.43" x2="33.9" y2="403.43" stroke="#1c1c1c" stroke-width="0.9"/>
<line x1="32.1" y1="415.77" x2="33.9" y2="415.77" stroke="#1c1c1c" stroke-width="0.9"/>
<line x1="31.099999999999998" y1="428.10" x2="33.9" y2="428.10" stroke="#1c1c1c" stroke-width="0.9"/>
<line x1="32.1" y1="440.43" x2="33.9" y2="440.43" stroke="#1c1c1c" stroke-width="0.9"/>
<line x1="32.1" y1="452.77" x2="33.9" y2="452.77" stroke="#1c1c1c" stroke-width="0.9"/>
<text x="27.80" y="429.52" font-size="8.0" text-anchor="end" fill="#222" textLength="4.4" lengthAdjust="spacingAndGlyphs" stroke="#222" stroke-width="0.15">0</text>
<line x1="20.4" y1="405.35" x2="20.4" y2="447.55000000000007" stroke="#111" stroke-width="1"/>
<path d="M20.4 402.35 L18.099999999999998 407.25 L22.7 407.25 Z" fill="#111"/>
<path d="M20.4 450.55 L18.099999999999998 445.65 L22.7 445.65 Z" fill="#111"/>
<text x="0" y="0" font-size="9" text-anchor="middle" fill="#222" stroke="#222" stroke-width="0.4" textLength="25.9" lengthAdjust="spacingAndGlyphs" transform="translate(15.00 426.65) rotate(-90)">VAF (%)</text>
<text x="67.10" y="475.40" font-size="8.2" text-anchor="middle" fill="#222" textLength="9.8" lengthAdjust="spacingAndGlyphs" stroke="#222" stroke-width="0.2">Dx</text>
<text x="109.85" y="475.40" font-size="8.2" text-anchor="middle" fill="#222" textLength="10.2" lengthAdjust="spacingAndGlyphs" stroke="#222" stroke-width="0.2">CR</text>
<text x="196.50" y="475.40" font-size="8.2" text-anchor="middle" fill="#222" textLength="28.0" lengthAdjust="spacingAndGlyphs" stroke="#222" stroke-width="0.2">Relapse</text>
<path d="M42.10 428.00 C42.55 427.87 43.93 427.67 44.80 427.20 C45.67 426.73 46.38 425.97 47.30 425.20 C48.22 424.43 48.77 423.93 50.30 422.60 C51.83 421.27 54.72 418.57 56.50 417.20 C58.28 415.83 59.85 414.98 61.00 414.40 C62.15 413.82 62.57 413.83 63.40 413.70 C64.23 413.57 62.53 413.52 66.00 413.60 C69.47 413.68 78.62 414.00 84.20 414.20 C89.78 414.40 95.20 414.70 99.50 414.80 C103.80 414.90 108.25 414.80 110.00 414.80 L197.30 414.80 L197.30 441.40 L110.00 441.40 C108.25 441.38 103.80 441.23 99.50 441.30 C95.20 441.37 89.78 441.63 84.20 441.80 C78.62 441.97 69.47 442.23 66.00 442.30 C62.53 442.37 64.23 442.33 63.40 442.20 C62.57 442.07 62.15 442.07 61.00 441.50 C59.85 440.93 58.28 440.15 56.50 438.80 C54.72 437.45 51.83 434.73 50.30 433.40 C48.77 432.07 48.22 431.57 47.30 430.80 C46.38 430.03 45.67 429.27 44.80 428.80 C43.93 428.33 42.55 428.13 42.10 428.00 Z" fill="#A5002A"/>
<path d="M61.10 428.00 C61.68 426.00 63.83 418.18 64.60 416.00 C65.37 413.82 65.13 415.10 65.70 414.90 C66.27 414.70 65.43 414.58 68.00 414.80 C70.57 415.02 77.13 415.60 81.10 416.20 C85.07 416.80 88.73 417.87 91.80 418.40 C94.87 418.93 96.93 419.20 99.50 419.40 C102.07 419.60 104.62 419.57 107.20 419.60 C109.78 419.63 113.70 419.60 115.00 419.60 L197.30 419.60 L197.30 435.90 L115.00 435.90 C113.70 435.90 109.78 435.88 107.20 435.90 C104.62 435.92 102.07 435.78 99.50 436.00 C96.93 436.22 94.87 436.62 91.80 437.20 C88.73 437.78 85.07 438.85 81.10 439.50 C77.13 440.15 70.57 440.83 68.00 441.10 C65.43 441.37 66.27 441.28 65.70 441.10 C65.13 440.92 65.37 442.18 64.60 440.00 C63.83 437.82 61.68 430.00 61.10 428.00 Z" fill="#DB8A15"/>
<path d="M62.60 428.00 C63.10 426.12 64.90 418.70 65.60 416.70 C66.30 414.70 66.07 416.05 66.80 416.00 C67.53 415.95 68.38 416.03 70.00 416.40 C71.62 416.77 73.63 417.03 76.50 418.20 C79.37 419.37 83.87 421.77 87.20 423.40 C90.53 425.03 94.95 427.23 96.50 428.00 C94.95 428.77 90.53 430.97 87.20 432.60 C83.87 434.23 79.37 436.62 76.50 437.80 C73.63 438.98 71.62 439.32 70.00 439.70 C68.38 440.08 67.53 440.15 66.80 440.10 C66.07 440.05 66.30 441.42 65.60 439.40 C64.90 437.38 63.10 429.90 62.60 428.00 Z" fill="#2E4C7C"/>
<path d="M151.90 428.00 C153.63 427.60 158.65 426.38 162.30 425.60 C165.95 424.82 169.95 423.98 173.80 423.30 C177.65 422.62 181.50 421.88 185.40 421.50 C189.30 421.12 195.23 421.08 197.20 421.00 L197.20 434.60 C195.23 434.50 189.30 434.40 185.40 434.00 C181.50 433.60 177.65 432.83 173.80 432.20 C169.95 431.57 165.95 430.90 162.30 430.20 C158.65 429.50 153.63 428.37 151.90 428.00 Z" fill="#8C86BA"/>
<circle cx="209.5" cy="392.50" r="3.2" fill="#A5002A"/>
<text x="216.20" y="395.00" font-size="7.9" text-anchor="start" fill="#222" font-style="italic" textLength="32.0" lengthAdjust="spacingAndGlyphs" stroke="#222" stroke-width="0.12">DNMT3A</text>
<circle cx="209.5" cy="403.80" r="3.2" fill="#DB8A15"/>
<text x="216.20" y="406.30" font-size="7.9" text-anchor="start" fill="#222" font-style="italic" textLength="17.0" lengthAdjust="spacingAndGlyphs" stroke="#222" stroke-width="0.12">IDH1</text>
<circle cx="209.5" cy="415.10" r="3.2" fill="#2E4C7C"/>
<text x="216.20" y="417.60" font-size="7.9" text-anchor="start" fill="#222" font-style="italic" textLength="29.6" lengthAdjust="spacingAndGlyphs" stroke="#222" stroke-width="0.12">FLT3-ITD</text>
<circle cx="209.5" cy="426.40" r="3.2" fill="#8C86BA"/>
<text x="216.20" y="428.90" font-size="7.9" text-anchor="start" fill="#222" font-style="italic" textLength="33.2" lengthAdjust="spacingAndGlyphs" stroke="#222" stroke-width="0.12">FLT3-TKD</text>
<text x="265.90" y="381.80" font-size="11" font-weight="bold" fill="#000" stroke="#000" stroke-width="0.25" textLength="8.5" lengthAdjust="spacingAndGlyphs">H</text>
<line x1="292.9" y1="388.6" x2="292.9" y2="467.75" stroke="#1c1c1c" stroke-width="1.5"/>
<line x1="291.29999999999995" y1="467.0" x2="463.0" y2="467.0" stroke="#1c1c1c" stroke-width="1.7"/>
<line x1="291.09999999999997" y1="391.20" x2="292.9" y2="391.20" stroke="#1c1c1c" stroke-width="0.9"/>
<line x1="291.09999999999997" y1="403.83" x2="292.9" y2="403.83" stroke="#1c1c1c" stroke-width="0.9"/>
<line x1="291.09999999999997" y1="416.47" x2="292.9" y2="416.47" stroke="#1c1c1c" stroke-width="0.9"/>
<line x1="290.09999999999997" y1="429.10" x2="292.9" y2="429.10" stroke="#1c1c1c" stroke-width="0.9"/>
<line x1="291.09999999999997" y1="441.73" x2="292.9" y2="441.73" stroke="#1c1c1c" stroke-width="0.9"/>
<line x1="291.09999999999997" y1="454.37" x2="292.9" y2="454.37" stroke="#1c1c1c" stroke-width="0.9"/>
<text x="286.80" y="431.52" font-size="8.0" text-anchor="end" fill="#222" textLength="4.4" lengthAdjust="spacingAndGlyphs" stroke="#222" stroke-width="0.15">0</text>
<line x1="279.4" y1="406.45" x2="279.4" y2="448.65000000000003" stroke="#111" stroke-width="1"/>
<path d="M279.4 403.45 L277.09999999999997 408.35 L281.7 408.35 Z" fill="#111"/>
<path d="M279.4 451.65 L277.09999999999997 446.75 L281.7 446.75 Z" fill="#111"/>
<text x="0" y="0" font-size="9" text-anchor="middle" fill="#222" stroke="#222" stroke-width="0.4" textLength="25.9" lengthAdjust="spacingAndGlyphs" transform="translate(274.00 427.65) rotate(-90)">VAF (%)</text>
<text x="325.65" y="477.30" font-size="8.2" text-anchor="middle" fill="#222" textLength="9.6" lengthAdjust="spacingAndGlyphs" stroke="#222" stroke-width="0.2">Dx</text>
<text x="369.40" y="477.30" font-size="8.2" text-anchor="middle" fill="#222" textLength="10.4" lengthAdjust="spacingAndGlyphs" stroke="#222" stroke-width="0.2">CR</text>
<text x="456.30" y="477.30" font-size="8.2" text-anchor="middle" fill="#222" textLength="17.0" lengthAdjust="spacingAndGlyphs" stroke="#222" stroke-width="0.2">New</text>
<text x="456.30" y="486.60" font-size="8.2" text-anchor="middle" fill="#222" textLength="17.0" lengthAdjust="spacingAndGlyphs" stroke="#222" stroke-width="0.2">AML</text>
<path d="M298.80 429.20 C299.25 429.07 300.70 428.78 301.50 428.40 C302.30 428.02 302.40 428.32 303.60 426.90 C304.80 425.48 307.00 422.75 308.70 419.90 C310.40 417.05 312.12 412.87 313.80 409.80 C315.48 406.73 317.43 403.45 318.80 401.50 C320.17 399.55 320.93 398.83 322.00 398.10 C323.07 397.37 323.82 396.85 325.20 397.10 C326.58 397.35 328.62 398.33 330.30 399.60 C331.98 400.87 333.62 402.68 335.30 404.70 C336.98 406.72 338.70 409.27 340.40 411.70 C342.10 414.13 343.80 417.08 345.50 419.30 C347.20 421.52 349.18 423.57 350.60 425.00 C352.02 426.43 352.85 427.20 354.00 427.90 C355.15 428.60 356.92 428.98 357.50 429.20 C356.92 429.42 355.15 429.82 354.00 430.50 C352.85 431.18 352.02 431.90 350.60 433.30 C349.18 434.70 347.20 436.73 345.50 438.90 C343.80 441.07 342.10 443.92 340.40 446.30 C338.70 448.68 336.98 451.22 335.30 453.20 C333.62 455.18 331.98 456.97 330.30 458.20 C328.62 459.43 326.58 460.37 325.20 460.60 C323.82 460.83 323.07 460.32 322.00 459.60 C320.93 458.88 320.17 458.20 318.80 456.30 C317.43 454.40 315.48 451.20 313.80 448.20 C312.12 445.20 310.40 441.08 308.70 438.30 C307.00 435.52 304.80 432.88 303.60 431.50 C302.40 430.12 302.30 430.38 301.50 430.00 C300.70 429.62 299.25 429.33 298.80 429.20 Z" fill="#A5002A"/>
<path d="M388.60 428.90 C389.88 428.45 393.73 427.12 396.30 426.20 C398.87 425.28 401.43 424.18 404.00 423.40 C406.57 422.62 409.13 421.93 411.70 421.50 C414.27 421.07 417.10 421.25 419.40 420.80 C421.70 420.35 423.20 419.83 425.50 418.80 C427.80 417.77 430.63 415.93 433.20 414.60 C435.77 413.27 438.33 412.03 440.90 410.80 C443.47 409.57 446.55 407.97 448.60 407.20 C450.65 406.43 451.87 406.38 453.20 406.20 C454.53 406.02 456.03 406.12 456.60 406.10 L456.60 450.90 C456.03 450.88 454.53 451.03 453.20 450.80 C451.87 450.57 450.65 450.27 448.60 449.50 C446.55 448.73 443.47 447.40 440.90 446.20 C438.33 445.00 435.77 443.58 433.20 442.30 C430.63 441.02 427.80 439.47 425.50 438.50 C423.20 437.53 421.70 436.97 419.40 436.50 C417.10 436.03 414.27 436.08 411.70 435.70 C409.13 435.32 406.57 434.90 404.00 434.20 C401.43 433.50 398.87 432.38 396.30 431.50 C393.73 430.62 389.88 429.33 388.60 428.90 Z" fill="#DB8A15"/>
<circle cx="471.2" cy="396.90" r="3.2" fill="#A5002A"/>
<text x="477.90" y="399.20" font-size="7.9" text-anchor="start" fill="#222" font-style="italic" textLength="25.0" lengthAdjust="spacingAndGlyphs" stroke="#222" stroke-width="0.12">RUNX1</text>
<text x="477.50" y="407.80" font-size="7.9" text-anchor="start" fill="#222" font-style="italic" textLength="36.3" lengthAdjust="spacingAndGlyphs" stroke="#222" stroke-width="0.12">-RUNX1T1</text>
<circle cx="471.2" cy="417.40" r="3.2" fill="#DB8A15"/>
<text x="476.90" y="419.70" font-size="7.9" text-anchor="start" fill="#222" font-style="italic" textLength="17.8" lengthAdjust="spacingAndGlyphs" stroke="#222" stroke-width="0.12">TP53</text>
<text x="6.90" y="502.00" font-size="11" font-weight="bold" fill="#000" stroke="#000" stroke-width="0.25">I</text>
<line x1="33.9" y1="508.75" x2="33.9" y2="588.6" stroke="#1c1c1c" stroke-width="1.5"/>
<line x1="32.3" y1="587.85" x2="203.8" y2="587.85" stroke="#1c1c1c" stroke-width="1.7"/>
<line x1="32.1" y1="510.75" x2="33.9" y2="510.75" stroke="#1c1c1c" stroke-width="0.9"/>
<line x1="32.1" y1="523.60" x2="33.9" y2="523.60" stroke="#1c1c1c" stroke-width="0.9"/>
<line x1="32.1" y1="536.45" x2="33.9" y2="536.45" stroke="#1c1c1c" stroke-width="0.9"/>
<line x1="31.099999999999998" y1="549.30" x2="33.9" y2="549.30" stroke="#1c1c1c" stroke-width="0.9"/>
<line x1="32.1" y1="562.15" x2="33.9" y2="562.15" stroke="#1c1c1c" stroke-width="0.9"/>
<line x1="32.1" y1="575.00" x2="33.9" y2="575.00" stroke="#1c1c1c" stroke-width="0.9"/>
<text x="27.80" y="551.67" font-size="8.0" text-anchor="end" fill="#222" textLength="4.4" lengthAdjust="spacingAndGlyphs" stroke="#222" stroke-width="0.15">0</text>
<line x1="20.4" y1="526.9499999999999" x2="20.4" y2="569.15" stroke="#111" stroke-width="1"/>
<path d="M20.4 523.95 L18.099999999999998 528.85 L22.7 528.85 Z" fill="#111"/>
<path d="M20.4 572.15 L18.099999999999998 567.25 L22.7 567.25 Z" fill="#111"/>
<text x="0" y="0" font-size="9" text-anchor="middle" fill="#222" stroke="#222" stroke-width="0.4" textLength="25.9" lengthAdjust="spacingAndGlyphs" transform="translate(15.00 547.90) rotate(-90)">VAF (%)</text>
<text x="67.30" y="598.15" font-size="8.2" text-anchor="middle" fill="#222" textLength="9.8" lengthAdjust="spacingAndGlyphs" stroke="#222" stroke-width="0.2">Dx</text>
<text x="100.20" y="598.15" font-size="8.2" text-anchor="middle" fill="#222" textLength="10.4" lengthAdjust="spacingAndGlyphs" stroke="#222" stroke-width="0.2">CR</text>
<text x="134.60" y="598.15" font-size="8.2" text-anchor="middle" fill="#222" textLength="15.7" lengthAdjust="spacingAndGlyphs" stroke="#222" stroke-width="0.2">HCT</text>
<text x="197.50" y="598.15" font-size="8.2" text-anchor="middle" fill="#222" textLength="11.3" lengthAdjust="spacingAndGlyphs" stroke="#222" stroke-width="0.2">CH</text>
<path d="M41.50 548.90 C42.02 548.77 43.57 548.70 44.60 548.10 C45.63 547.50 46.13 546.58 47.70 545.30 C49.27 544.02 51.82 542.07 54.00 540.40 C56.18 538.73 59.28 536.47 60.80 535.30 C62.32 534.13 62.33 533.78 63.10 533.40 C63.87 533.02 62.58 533.07 65.40 533.00 C68.22 532.93 74.40 533.00 80.00 533.00 C85.60 533.00 95.47 532.97 99.00 533.00 C102.53 533.03 100.45 532.98 101.20 533.20 C101.95 533.42 102.50 533.62 103.50 534.30 C104.50 534.98 105.42 535.78 107.20 537.30 C108.98 538.82 112.32 541.80 114.20 543.40 C116.08 545.00 117.12 545.98 118.50 546.90 C119.88 547.82 121.83 548.57 122.50 548.90 C121.83 549.23 119.88 550.00 118.50 550.90 C117.12 551.80 116.08 552.73 114.20 554.30 C112.32 555.87 108.98 558.82 107.20 560.30 C105.42 561.78 104.50 562.53 103.50 563.20 C102.50 563.87 101.95 564.08 101.20 564.30 C100.45 564.52 102.53 564.47 99.00 564.50 C95.47 564.53 85.60 564.50 80.00 564.50 C74.40 564.50 68.22 564.55 65.40 564.50 C62.58 564.45 63.87 564.58 63.10 564.20 C62.33 563.82 62.32 563.33 60.80 562.20 C59.28 561.07 56.18 559.00 54.00 557.40 C51.82 555.80 49.27 553.88 47.70 552.60 C46.13 551.32 45.63 550.32 44.60 549.70 C43.57 549.08 42.02 549.03 41.50 548.90 Z" fill="#DB8A15"/>
<path d="M60.80 548.90 C61.40 547.13 63.60 540.23 64.40 538.30 C65.20 536.37 65.00 537.50 65.60 537.30 C66.20 537.10 65.38 537.15 68.00 537.10 C70.62 537.05 75.92 536.85 81.30 537.00 C86.68 537.15 96.60 537.68 100.30 538.00 C104.00 538.32 102.35 538.43 103.50 538.90 C104.65 539.37 105.42 539.77 107.20 540.80 C108.98 541.83 111.88 543.75 114.20 545.10 C116.52 546.45 119.95 548.27 121.10 548.90 C119.95 549.55 116.52 551.42 114.20 552.80 C111.88 554.18 108.98 556.17 107.20 557.20 C105.42 558.23 104.65 558.57 103.50 559.00 C102.35 559.43 104.00 559.55 100.30 559.80 C96.60 560.05 86.68 560.38 81.30 560.50 C75.92 560.62 70.62 560.53 68.00 560.50 C65.38 560.47 66.20 560.50 65.60 560.30 C65.00 560.10 65.20 561.20 64.40 559.30 C63.60 557.40 61.40 550.63 60.80 548.90 Z" fill="#A5002A"/>
<path d="M62.30 548.90 C62.82 547.27 64.72 540.85 65.40 539.10 C66.08 537.35 65.50 538.33 66.40 538.40 C67.30 538.47 69.30 538.87 70.80 539.50 C72.30 540.13 73.70 541.18 75.40 542.20 C77.10 543.22 79.02 544.48 81.00 545.60 C82.98 546.72 86.25 548.35 87.30 548.90 C86.25 549.45 82.98 551.08 81.00 552.20 C79.02 553.32 77.10 554.58 75.40 555.60 C73.70 556.62 72.30 557.65 70.80 558.30 C69.30 558.95 67.30 559.42 66.40 559.50 C65.50 559.58 66.08 560.57 65.40 558.80 C64.72 557.03 62.82 550.55 62.30 548.90 Z" fill="#2E4C7C"/>
<path d="M140.40 548.70 C142.87 548.55 150.05 548.12 155.20 547.80 C160.35 547.48 167.27 547.32 171.30 546.80 C175.33 546.28 176.48 545.35 179.40 544.70 C182.32 544.05 185.77 543.37 188.80 542.90 C191.83 542.43 196.13 542.07 197.60 541.90 L197.60 555.80 C196.13 555.55 191.83 554.93 188.80 554.30 C185.77 553.67 182.32 552.67 179.40 552.00 C176.48 551.33 175.33 550.70 171.30 550.30 C167.27 549.90 160.35 549.87 155.20 549.60 C150.05 549.33 142.87 548.85 140.40 548.70 Z" fill="#8C86BA"/>
<circle cx="210.4" cy="516.50" r="3.2" fill="#A5002A"/>
<text x="216.30" y="518.80" font-size="7.9" text-anchor="start" fill="#222" font-style="italic" textLength="17.8" lengthAdjust="spacingAndGlyphs" stroke="#222" stroke-width="0.12">TET2</text>
<circle cx="210.4" cy="527.95" r="3.2" fill="#DB8A15"/>
<text x="217.10" y="530.25" font-size="7.9" text-anchor="start" fill="#222" font-style="italic" textLength="21.6" lengthAdjust="spacingAndGlyphs" stroke="#222" stroke-width="0.12">ASXL1</text>
<circle cx="210.4" cy="539.40" r="3.2" fill="#2E4C7C"/>
<text x="217.10" y="541.70" font-size="7.9" text-anchor="start" fill="#222" font-style="italic" textLength="17.4" lengthAdjust="spacingAndGlyphs" stroke="#222" stroke-width="0.12">IDH2</text>
<circle cx="210.4" cy="550.85" r="3.2" fill="#8C86BA"/>
<text x="217.10" y="553.15" font-size="7.9" text-anchor="start" fill="#222" font-style="italic" textLength="32.4" lengthAdjust="spacingAndGlyphs" stroke="#222" stroke-width="0.12">DNMT3A</text>
<rect x="0.5" y="0.5" width="519" height="604" fill="none" stroke="#000" stroke-width="1"/>
</svg>
</body></html>
